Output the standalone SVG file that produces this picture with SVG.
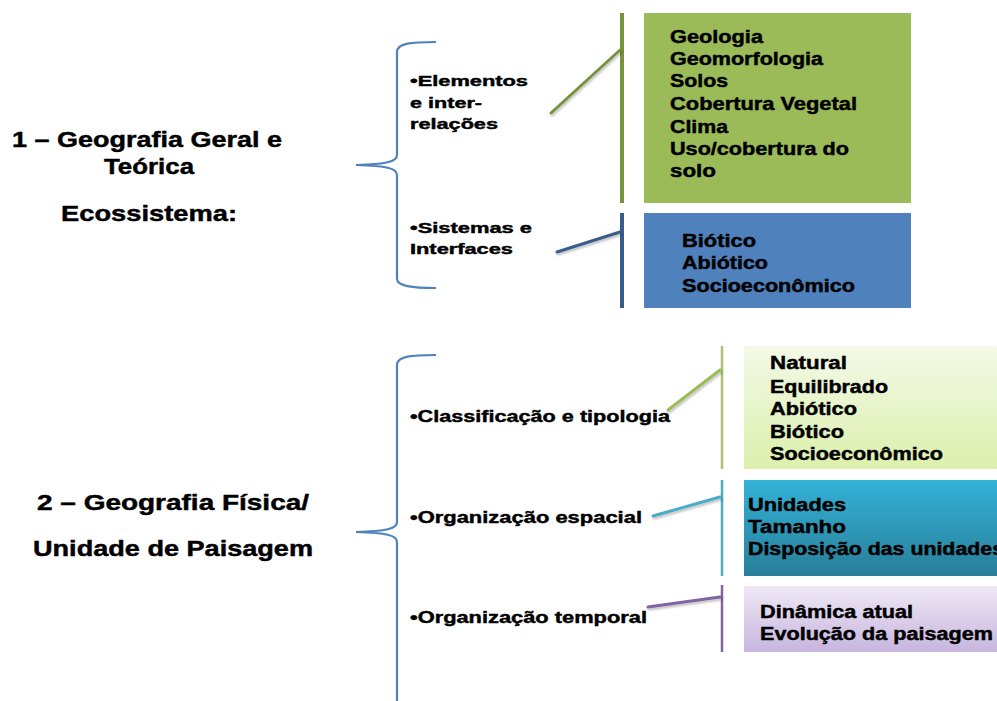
<svg xmlns="http://www.w3.org/2000/svg" width="997" height="701" viewBox="0 0 997 701">
<defs>
<linearGradient id="gLight" x1="0" y1="0" x2="0" y2="1"><stop offset="0" stop-color="#F3F9E7"/><stop offset="1" stop-color="#DCF0AC"/></linearGradient>
<linearGradient id="gCyan" x1="0" y1="0" x2="0" y2="1"><stop offset="0" stop-color="#33B2D8"/><stop offset="1" stop-color="#287E98"/></linearGradient>
<linearGradient id="gPurple" x1="0" y1="0" x2="0" y2="1"><stop offset="0" stop-color="#EFE9F6"/><stop offset="1" stop-color="#C7B5DE"/></linearGradient>
<filter id="sh" x="-10%" y="-50%" width="120%" height="200%"><feDropShadow dx="1" dy="2" stdDeviation="1" flood-color="#000" flood-opacity="0.25"/></filter>
</defs>
<style>
text{font-family:"Liberation Sans",Arial,sans-serif;font-weight:bold;fill:#000;stroke:#000;stroke-width:0.45}
.title{font-size:22px}
.lbl{font-size:15px}
.lbl2{font-size:17px}
.box{font-size:18px}
.brace{fill:none;stroke:#4F81BD;stroke-width:2.2}
.bar{stroke-width:4}
.con{stroke-width:3;fill:none;stroke-linecap:round}
</style>
<rect width="997" height="701" fill="#fff"/>

<g id="title1">
<text class="title" x="12" y="147" textLength="270" lengthAdjust="spacingAndGlyphs">1 – Geografia Geral e</text>
<text class="title" x="104" y="174" textLength="90" lengthAdjust="spacingAndGlyphs">Teórica</text>
<text class="title" x="61" y="221" textLength="176" lengthAdjust="spacingAndGlyphs">Ecossistema:</text>
</g>

<g id="title2">
<text class="title" x="37" y="510" textLength="272" lengthAdjust="spacingAndGlyphs">2 – Geografia Física/</text>
<text class="title" x="33" y="556" textLength="280" lengthAdjust="spacingAndGlyphs">Unidade de Paisagem</text>
</g>

<g id="brace1"><path class="brace" d="M436,42 C412,42 397,43 397,52 L397,155 C397,162 386,164 356,165 C386,166 397,168 397,175 L397,279 C397,286 412,288 436,288"/></g>
<g id="brace2"><path class="brace" d="M436,355 C412,355 397,356 397,365 L397,522 C397,529 386,531 356,532 C386,533 397,535 397,542 L397,701"/></g>

<g id="label-elementos">
<text class="lbl" x="410" y="86" textLength="118" lengthAdjust="spacingAndGlyphs">•Elementos</text>
<text class="lbl" x="410" y="108" textLength="72" lengthAdjust="spacingAndGlyphs">e inter-</text>
<text class="lbl" x="410" y="129" textLength="88" lengthAdjust="spacingAndGlyphs">relações</text>
</g>
<g id="label-sistemas">
<text class="lbl" x="410" y="233" textLength="122" lengthAdjust="spacingAndGlyphs">•Sistemas e</text>
<text class="lbl" x="410" y="254" textLength="103" lengthAdjust="spacingAndGlyphs">Interfaces</text>
</g>
<g id="label-classificacao"><text class="lbl2" x="410" y="422" textLength="260" lengthAdjust="spacingAndGlyphs">•Classificação e tipologia</text></g>
<g id="label-espacial"><text class="lbl2" x="410" y="523" textLength="232" lengthAdjust="spacingAndGlyphs">•Organização espacial</text></g>
<g id="label-temporal"><text class="lbl2" x="410" y="623" textLength="237" lengthAdjust="spacingAndGlyphs">•Organização temporal</text></g>

<g id="connectors">
<line class="bar" x1="622" y1="13" x2="622" y2="203" stroke="#77933C"/>
<line class="bar" x1="622" y1="213" x2="622" y2="308" stroke="#385D8A"/>
<line x1="722" y1="346" x2="722" y2="469" stroke="#A9C46F" stroke-width="2.5"/>
<line x1="722" y1="480" x2="722" y2="576" stroke="#4BACC6" stroke-width="2.5"/>
<line x1="722" y1="585" x2="722" y2="652" stroke="#8064A2" stroke-width="2.5"/>
<path class="con" d="M551,113 L620,50" stroke="#77933C" filter="url(#sh)"/>
<path class="con" d="M557,252 L620,232" stroke="#385D8A" filter="url(#sh)"/>
<path class="con" d="M668,410 L720,370" stroke="#9BBB59" stroke-width="2.5" filter="url(#sh)"/>
<path class="con" d="M653,516 L720,497" stroke="#4BACC6" stroke-width="2.5" filter="url(#sh)"/>
<path class="con" d="M648,607 L720,597" stroke="#8064A2" stroke-width="2.5" filter="url(#sh)"/>
</g>

<g id="box-elementos">
<rect x="644" y="13" width="267" height="190" fill="#9BBB59"/>
<text class="box" x="670" y="43" textLength="93" lengthAdjust="spacingAndGlyphs">Geologia</text>
<text class="box" x="670" y="65" textLength="153" lengthAdjust="spacingAndGlyphs">Geomorfologia</text>
<text class="box" x="670" y="87" textLength="58" lengthAdjust="spacingAndGlyphs">Solos</text>
<text class="box" x="670" y="110" textLength="187" lengthAdjust="spacingAndGlyphs">Cobertura Vegetal</text>
<text class="box" x="670" y="133" textLength="58" lengthAdjust="spacingAndGlyphs">Clima</text>
<text class="box" x="670" y="155" textLength="179" lengthAdjust="spacingAndGlyphs">Uso/cobertura do</text>
<text class="box" x="670" y="177" textLength="46" lengthAdjust="spacingAndGlyphs">solo</text>
</g>

<g id="box-sistemas">
<rect x="644" y="213" width="267" height="95" fill="#4F81BD"/>
<text class="box" x="682" y="247" textLength="74" lengthAdjust="spacingAndGlyphs">Biótico</text>
<text class="box" x="682" y="269" textLength="86" lengthAdjust="spacingAndGlyphs">Abiótico</text>
<text class="box" x="682" y="292" textLength="173" lengthAdjust="spacingAndGlyphs">Socioeconômico</text>
</g>

<g id="box-classificacao">
<rect x="744" y="346" width="253" height="123" fill="url(#gLight)"/>
<text class="box" x="770" y="369" textLength="77" lengthAdjust="spacingAndGlyphs">Natural</text>
<text class="box" x="770" y="393" textLength="118" lengthAdjust="spacingAndGlyphs">Equilibrado</text>
<text class="box" x="770" y="415" textLength="87" lengthAdjust="spacingAndGlyphs">Abiótico</text>
<text class="box" x="770" y="438" textLength="74" lengthAdjust="spacingAndGlyphs">Biótico</text>
<text class="box" x="770" y="460" textLength="173" lengthAdjust="spacingAndGlyphs">Socioeconômico</text>
</g>

<g id="box-espacial">
<rect x="744" y="480" width="253" height="96" fill="url(#gCyan)"/>
<text class="box" x="748" y="511" textLength="98" lengthAdjust="spacingAndGlyphs">Unidades</text>
<text class="box" x="748" y="533" textLength="98" lengthAdjust="spacingAndGlyphs">Tamanho</text>
<text class="box" x="748" y="555" textLength="256" lengthAdjust="spacingAndGlyphs">Disposição das unidades</text>
</g>

<g id="box-temporal">
<rect x="744" y="586" width="253" height="66" fill="url(#gPurple)"/>
<text class="box" x="760" y="618" textLength="153" lengthAdjust="spacingAndGlyphs">Dinâmica atual</text>
<text class="box" x="760" y="640" textLength="233" lengthAdjust="spacingAndGlyphs">Evolução da paisagem</text>
</g>
</svg>
